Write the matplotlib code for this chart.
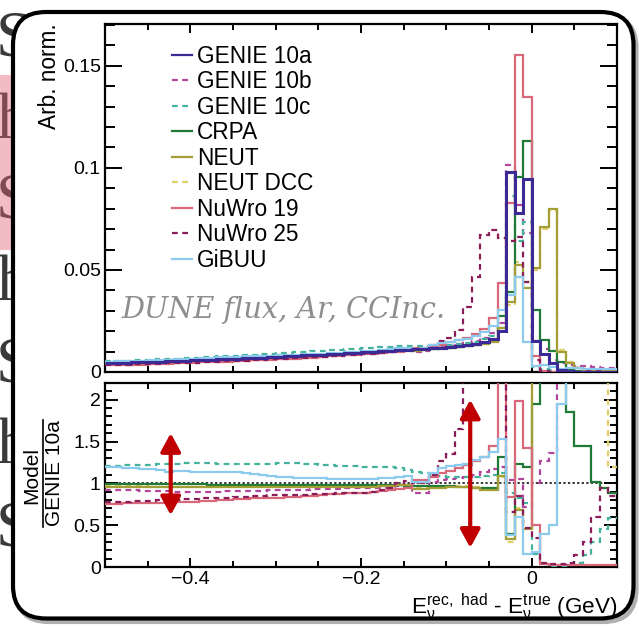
import numpy as np
import matplotlib
matplotlib.use("Agg")
import matplotlib.pyplot as plt
from matplotlib.lines import Line2D
from matplotlib.patches import FancyBboxPatch, Rectangle
from matplotlib.ticker import MultipleLocator, FuncFormatter

plt.rcParams['font.family'] = ['Liberation Sans', 'DejaVu Sans']

# 10 MeV bins from -0.5 to 0.1 GeV
edges = np.linspace(-0.5, 0.1, 61)

labels = ["GENIE 10a", "GENIE 10b", "GENIE 10c", "CRPA", "NEUT",
          "NEUT DCC", "NuWro 19", "NuWro 25", "GiBUU"]
colours = ["#3b2a94", "#b2449c", "#45b29d", "#1f7a38", "#a49e36",
           "#e2cd6c", "#d8687a", "#8a1d58", "#8ccbee"]
dashed = [False, True, True, False, False, True, False, True, False]
# drawing order in the top panel (NEUT DCC sits under NEUT, GENIE 10a on top)
draw_order = [5, 1, 2, 3, 4, 6, 7, 8, 0]

# arbitrary-normalised E_rec,had - E_true distributions
genie_10a = [0.0043, 0.0044, 0.0046, 0.0047, 0.0048, 0.0050, 0.0051, 0.0053, 0.0054, 0.0056,
             0.0057, 0.0059, 0.0060, 0.0062, 0.0064, 0.0065, 0.0067, 0.0069, 0.0071, 0.0073,
             0.0075, 0.0077, 0.0079, 0.0081, 0.0083, 0.0085, 0.0087, 0.0090, 0.0092, 0.0094,
             0.0097, 0.0099, 0.0102, 0.0104, 0.0107, 0.0110, 0.0112, 0.0115, 0.0118, 0.0120,
             0.0123, 0.0127, 0.0131, 0.0138, 0.0147, 0.0162, 0.0200, 0.0980, 0.0780, 0.0946,
             0.0152, 0.0090, 0.0045, 0.0008, 0.0003, 0.0002, 0.0002, 0.0001, 0.0001, 0.0001]
genie_10b = [0.0039, 0.0040, 0.0042, 0.0043, 0.0044, 0.0046, 0.0046, 0.0048, 0.0049, 0.0050,
             0.0051, 0.0053, 0.0054, 0.0056, 0.0058, 0.0059, 0.0061, 0.0063, 0.0065, 0.0067,
             0.0069, 0.0071, 0.0073, 0.0075, 0.0077, 0.0079, 0.0081, 0.0084, 0.0086, 0.0088,
             0.0091, 0.0094, 0.0097, 0.0100, 0.0104, 0.0108, 0.0099, 0.0101, 0.0120, 0.0125,
             0.0129, 0.0135, 0.0141, 0.0152, 0.0166, 0.0190, 0.0240, 0.1015, 0.0820, 0.0680,
             0.0150, 0.0115, 0.0061, 0.0045, 0.0035, 0.0030, 0.0027, 0.0025, 0.0022, 0.0020]
genie_10c = [0.0052, 0.0053, 0.0056, 0.0057, 0.0059, 0.0061, 0.0063, 0.0065, 0.0066, 0.0069,
             0.0071, 0.0073, 0.0074, 0.0076, 0.0079, 0.0080, 0.0082, 0.0085, 0.0087, 0.0090,
             0.0093, 0.0095, 0.0098, 0.0100, 0.0102, 0.0104, 0.0106, 0.0109, 0.0111, 0.0114,
             0.0116, 0.0119, 0.0121, 0.0124, 0.0126, 0.0128, 0.0128, 0.0129, 0.0130, 0.0131,
             0.0133, 0.0137, 0.0141, 0.0149, 0.0160, 0.0178, 0.0215, 0.0862, 0.0640, 0.0737,
             0.0025, 0.0015, 0.0010, 0.0005, 0.0003, 0.0002, 0.0002, 0.0002, 0.0002, 0.0002]
crpa = [0.0043, 0.0044, 0.0046, 0.0047, 0.0048, 0.0050, 0.0050, 0.0052, 0.0053, 0.0055,
        0.0056, 0.0058, 0.0059, 0.0061, 0.0063, 0.0064, 0.0066, 0.0068, 0.0070, 0.0072,
        0.0074, 0.0075, 0.0077, 0.0079, 0.0081, 0.0083, 0.0085, 0.0088, 0.0090, 0.0092,
        0.0095, 0.0097, 0.0100, 0.0102, 0.0105, 0.0107, 0.0109, 0.0112, 0.0114, 0.0116,
        0.0119, 0.0122, 0.0126, 0.0131, 0.0140, 0.0152, 0.0275, 0.0394, 0.0957, 0.1132,
        0.0304, 0.0157, 0.0103, 0.0050, 0.0012, 0.0006, 0.0004, 0.0003, 0.0002, 0.0001]
neut = [0.0041, 0.0042, 0.0044, 0.0045, 0.0046, 0.0048, 0.0049, 0.0051, 0.0052, 0.0054,
        0.0055, 0.0057, 0.0058, 0.0060, 0.0061, 0.0062, 0.0064, 0.0066, 0.0068, 0.0070,
        0.0072, 0.0074, 0.0076, 0.0078, 0.0080, 0.0082, 0.0084, 0.0086, 0.0088, 0.0090,
        0.0093, 0.0095, 0.0099, 0.0101, 0.0105, 0.0108, 0.0104, 0.0107, 0.0112, 0.0114,
        0.0118, 0.0122, 0.0126, 0.0131, 0.0135, 0.0149, 0.0218, 0.0345, 0.0524, 0.0410,
        0.0510, 0.0712, 0.0800, 0.0100, 0.0045, 0.0020, 0.0012, 0.0008, 0.0005, 0.0003]
neut_dcc = [0.0042, 0.0043, 0.0045, 0.0046, 0.0047, 0.0048, 0.0049, 0.0051, 0.0052, 0.0054,
            0.0055, 0.0057, 0.0058, 0.0060, 0.0062, 0.0063, 0.0065, 0.0067, 0.0069, 0.0071,
            0.0073, 0.0075, 0.0077, 0.0079, 0.0081, 0.0083, 0.0085, 0.0087, 0.0089, 0.0091,
            0.0094, 0.0096, 0.0099, 0.0101, 0.0105, 0.0108, 0.0105, 0.0108, 0.0114, 0.0116,
            0.0119, 0.0123, 0.0127, 0.0132, 0.0137, 0.0151, 0.0216, 0.0330, 0.0540, 0.0440,
            0.0500, 0.0700, 0.0790, 0.0110, 0.0050, 0.0025, 0.0014, 0.0009, 0.0006, 0.0002]
nuwro_19 = [0.0032, 0.0033, 0.0035, 0.0036, 0.0036, 0.0039, 0.0039, 0.0041, 0.0042, 0.0044,
            0.0044, 0.0047, 0.0047, 0.0050, 0.0051, 0.0053, 0.0054, 0.0057, 0.0058, 0.0061,
            0.0062, 0.0065, 0.0066, 0.0069, 0.0071, 0.0073, 0.0076, 0.0078, 0.0081, 0.0084,
            0.0086, 0.0089, 0.0093, 0.0096, 0.0100, 0.0105, 0.0116, 0.0120, 0.0127, 0.0134,
            0.0145, 0.0155, 0.0167, 0.0185, 0.0210, 0.0263, 0.0435, 0.0827, 0.1554, 0.1346,
            0.0080, 0.0003, 0.0002, 0.0002, 0.0002, 0.0001, 0.0001, 0.0001, 0.0001, 0.0001]
nuwro_25 = [0.0034, 0.0034, 0.0036, 0.0037, 0.0038, 0.0040, 0.0041, 0.0042, 0.0043, 0.0045,
            0.0046, 0.0048, 0.0049, 0.0051, 0.0053, 0.0055, 0.0056, 0.0059, 0.0060, 0.0063,
            0.0065, 0.0066, 0.0068, 0.0070, 0.0072, 0.0074, 0.0076, 0.0079, 0.0081, 0.0083,
            0.0086, 0.0089, 0.0094, 0.0098, 0.0107, 0.0113, 0.0114, 0.0120, 0.0130, 0.0154,
            0.0166, 0.0206, 0.0320, 0.0467, 0.0670, 0.0696, 0.0657, 0.0640, 0.0660, 0.0440,
            0.0060, 0.0004, 0.0002, 0.0002, 0.0002, 0.0002, 0.0003, 0.0003, 0.0001, 0.0001]
gibuu = [0.0051, 0.0052, 0.0054, 0.0055, 0.0056, 0.0059, 0.0060, 0.0060, 0.0063, 0.0064,
         0.0065, 0.0067, 0.0068, 0.0072, 0.0074, 0.0074, 0.0076, 0.0077, 0.0079, 0.0080,
         0.0081, 0.0083, 0.0085, 0.0087, 0.0088, 0.0090, 0.0091, 0.0095, 0.0097, 0.0099,
         0.0102, 0.0104, 0.0108, 0.0111, 0.0116, 0.0120, 0.0114, 0.0117, 0.0132, 0.0142,
         0.0149, 0.0155, 0.0161, 0.0177, 0.0194, 0.0224, 0.0306, 0.0377, 0.0467, 0.0149,
         0.0027, 0.0036, 0.0023, 0.0016, 0.0020, 0.0018, 0.0016, 0.0015, 0.0014, 0.0013]

# model / GENIE 10a (values above 2.2 run off the top of the panel)
ratio_genie_10b = [0.92, 0.92, 0.92, 0.92, 0.91, 0.91, 0.91, 0.91, 0.90, 0.90,
                   0.90, 0.90, 0.90, 0.90, 0.91, 0.91, 0.91, 0.91, 0.91, 0.92,
                   0.92, 0.92, 0.92, 0.92, 0.93, 0.93, 0.93, 0.93, 0.94, 0.94,
                   0.94, 0.95, 0.95, 0.96, 0.97, 0.98, 0.88, 0.88, 1.02, 1.04,
                   1.05, 1.06, 1.08, 1.10, 1.13, 1.17, 1.20, 1.04, 1.05, 0.72,
                   1.00, 1.27, 1.36, 3.00, 3.00, 3.00, 3.00, 3.00, 3.00, 3.00]
ratio_genie_10c = [1.21, 1.21, 1.22, 1.22, 1.22, 1.22, 1.23, 1.23, 1.23, 1.24,
                   1.24, 1.24, 1.24, 1.23, 1.23, 1.23, 1.23, 1.23, 1.23, 1.23,
                   1.24, 1.24, 1.24, 1.23, 1.23, 1.22, 1.22, 1.21, 1.21, 1.21,
                   1.20, 1.20, 1.19, 1.19, 1.18, 1.16, 1.14, 1.12, 1.10, 1.09,
                   1.08, 1.08, 1.08, 1.08, 1.09, 1.10, 1.12, 0.88, 0.82, 0.76,
                   0.15, 0.03, 0.01, 0.01, 0.02, 0.05, 0.14, 0.30, 0.45, 0.58]
ratio_crpa = [0.99, 0.99, 0.99, 0.99, 0.99, 0.99, 0.99, 0.99, 0.99, 0.99,
              0.99, 0.99, 0.98, 0.98, 0.98, 0.98, 0.98, 0.98, 0.98, 0.98,
              0.98, 0.98, 0.98, 0.98, 0.98, 0.98, 0.98, 0.98, 0.98, 0.98,
              0.98, 0.98, 0.98, 0.98, 0.98, 0.97, 0.97, 0.97, 0.97, 0.97,
              0.97, 0.96, 0.96, 0.95, 0.95, 0.94, 1.32, 0.40, 1.23, 1.20,
              1.95, 2.50, 2.50, 2.50, 1.85, 1.45, 1.45, 1.02, 0.95, 0.88]
ratio_neut = [0.96, 0.96, 0.96, 0.96, 0.96, 0.96, 0.96, 0.96, 0.96, 0.96,
              0.96, 0.96, 0.96, 0.96, 0.96, 0.96, 0.96, 0.96, 0.96, 0.96,
              0.96, 0.96, 0.96, 0.96, 0.96, 0.96, 0.96, 0.96, 0.96, 0.96,
              0.96, 0.96, 0.97, 0.97, 0.98, 0.98, 0.93, 0.93, 0.95, 0.95,
              0.96, 0.96, 0.96, 0.95, 0.92, 0.92, 1.09, 0.33, 0.68, 0.45,
              3.00, 3.00, 3.00, 3.00, 3.00, 3.00, 3.00, 3.00, 3.00, 3.00]
ratio_neut_dcc = [0.97, 0.97, 0.97, 0.97, 0.97, 0.96, 0.96, 0.96, 0.96, 0.96,
                  0.96, 0.96, 0.96, 0.96, 0.97, 0.97, 0.97, 0.97, 0.97, 0.97,
                  0.97, 0.97, 0.97, 0.97, 0.97, 0.97, 0.97, 0.97, 0.97, 0.97,
                  0.97, 0.97, 0.97, 0.97, 0.98, 0.98, 0.94, 0.94, 0.96, 0.96,
                  0.97, 0.97, 0.97, 0.96, 0.93, 0.93, 1.08, 0.30, 0.70, 0.47,
                  3.00, 3.00, 3.00, 3.00, 3.00, 3.00, 3.00, 3.00, 3.00, 1.19]
ratio_nuwro_19 = [0.75, 0.75, 0.76, 0.76, 0.76, 0.77, 0.77, 0.77, 0.78, 0.78,
                  0.78, 0.79, 0.79, 0.80, 0.80, 0.81, 0.81, 0.82, 0.82, 0.83,
                  0.83, 0.84, 0.84, 0.85, 0.85, 0.86, 0.87, 0.87, 0.88, 0.89,
                  0.89, 0.90, 0.91, 0.92, 0.93, 0.95, 1.04, 1.04, 1.08, 1.12,
                  1.15, 1.18, 1.22, 1.27, 1.32, 1.45, 2.60, 0.84, 1.99, 1.42,
                  0.50, 0.03, 0.02, 0.02, 0.02, 0.02, 0.02, 0.02, 0.02, 0.02]
ratio_nuwro_25 = [0.78, 0.78, 0.78, 0.79, 0.79, 0.79, 0.80, 0.80, 0.80, 0.81,
                  0.81, 0.82, 0.82, 0.83, 0.83, 0.84, 0.84, 0.85, 0.85, 0.86,
                  0.86, 0.86, 0.86, 0.86, 0.87, 0.87, 0.87, 0.88, 0.88, 0.88,
                  0.89, 0.90, 0.92, 0.94, 1.00, 1.03, 1.00, 1.00, 1.10, 1.27,
                  1.35, 1.65, 2.60, 3.50, 4.50, 4.30, 3.30, 0.66, 0.85, 0.47,
                  0.35, 0.05, 0.03, 0.03, 0.05, 0.14, 0.30, 0.60, 0.95, 0.85]
ratio_gibuu = [1.19, 1.19, 1.18, 1.18, 1.17, 1.17, 1.16, 1.13, 1.15, 1.15,
               1.14, 1.13, 1.13, 1.14, 1.14, 1.13, 1.12, 1.11, 1.10, 1.09,
               1.08, 1.08, 1.07, 1.07, 1.06, 1.06, 1.05, 1.05, 1.05, 1.05,
               1.05, 1.05, 1.06, 1.07, 1.08, 1.09, 1.02, 1.02, 1.12, 1.18,
               1.21, 1.22, 1.23, 1.28, 1.32, 1.38, 1.53, 0.38, 0.60, 0.16,
               0.18, 0.40, 0.50, 1.95, 3.00, 3.00, 3.00, 3.00, 3.00, 3.00]

spectra = [genie_10a, genie_10b, genie_10c, crpa, neut, neut_dcc, nuwro_19, nuwro_25, gibuu]
ratios = [None, ratio_genie_10b, ratio_genie_10c, ratio_crpa, ratio_neut,
          ratio_neut_dcc, ratio_nuwro_19, ratio_nuwro_25, ratio_gibuu]

# spread markers on the ratio panel: (x, low, high)
arrows = [(-0.423, 0.62, 1.60), (-0.072, 0.23, 2.00)]

W, H = 639, 626
fig = plt.figure(figsize=(W / 100, H / 100), dpi=100)


def px_box(l, t, r, b):
    return [l / W, 1 - b / H, (r - l) / W, (b - t) / H]


# slide background: cut-off letters and highlight at the left edge
for ch, base in zip("ShShShS", [55, 138, 218, 300, 381, 463, 545]):
    fig.text(-4 / W, 1 - base / H, ch, family='Liberation Serif', fontsize=47,
             color='#3a3a3a', va='baseline', ha='left', zorder=0.5)
fig.patches.append(Rectangle((0, 1 - 250 / H), 16 / W, 175 / H, transform=fig.transFigure,
                             facecolor='#e4606f', alpha=0.42, edgecolor='none', zorder=1))
# rounded panel with a soft shadow
fig.patches.append(FancyBboxPatch((0.155, 0.04), 6.21, 6.07, transform=fig.dpi_scale_trans,
                                  boxstyle='round,pad=0,rounding_size=0.33',
                                  facecolor='none', edgecolor='#b0b0b0', lw=3, zorder=1.5))
fig.patches.append(FancyBboxPatch((0.13, 0.075), 6.205, 6.065, transform=fig.dpi_scale_trans,
                                  boxstyle='round,pad=0,rounding_size=0.33',
                                  facecolor='white', edgecolor='black', lw=3, zorder=2))

ax = fig.add_axes(px_box(105, 24, 617, 372))
axr = fig.add_axes(px_box(105, 383, 617, 567))


def tick_fmt(v, _):
    if abs(v) < 1e-9:
        return "0"
    return f"{v:g}".replace("-", "\u2212")


def line_style(i):
    return (0, (2.6, 2.0)) if dashed[i] else '-'


for z, i in enumerate(draw_order):
    lw = 2.2 if i == 0 else 1.6
    ax.stairs(spectra[i], edges, baseline=None, color=colours[i], lw=lw,
              ls=line_style(i), zorder=3 + 0.01 * z)
    if ratios[i] is not None:
        axr.stairs(ratios[i], edges, baseline=None, color=colours[i], lw=1.6,
                   ls=line_style(i), zorder=3 + 0.01 * z)

handles = [Line2D([], [], color=colours[i], lw=1.6, ls=line_style(i))
           for i in range(len(labels))]

axr.axhline(1.0, color='black', lw=1.1, ls=(0, (1.5, 1.5)), zorder=2)

for x, lo, hi in arrows:
    axr.annotate('', xy=(x, lo), xytext=(x, hi),
                 arrowprops=dict(arrowstyle='<|-|>,head_length=0.55,head_width=0.3',
                                 mutation_scale=20, color='#c00000', lw=3,
                                 shrinkA=0, shrinkB=0), zorder=6)

ax.set_xlim(-0.5, 0.1)
ax.set_ylim(0, 0.1705)
axr.set_xlim(-0.5, 0.1)
axr.set_ylim(0, 2.2)

for a in (ax, axr):
    for s in a.spines.values():
        s.set_linewidth(1.6)
    a.set_zorder(4)
    a.xaxis.set_major_locator(MultipleLocator(0.2))
    a.xaxis.set_minor_locator(MultipleLocator(0.05))
    a.xaxis.set_major_formatter(FuncFormatter(tick_fmt))
    a.yaxis.set_major_formatter(FuncFormatter(tick_fmt))
    a.tick_params(which='both', direction='in', top=True, right=True, width=1.4,
                  labelsize=14, pad=3)
    a.tick_params(axis='x', which='major', length=6.5)
    a.tick_params(axis='x', which='minor', length=4.0)

ax.yaxis.set_major_locator(MultipleLocator(0.05))
ax.yaxis.set_minor_locator(MultipleLocator(0.01))
ax.tick_params(axis='y', which='major', length=12)
ax.tick_params(axis='y', which='minor', length=7)
ax.tick_params(axis='x', labelbottom=False)

axr.yaxis.set_major_locator(MultipleLocator(0.5))
axr.yaxis.set_minor_locator(MultipleLocator(0.1))
axr.tick_params(axis='y', which='major', length=9.5)
axr.tick_params(axis='y', which='minor', length=5)

ax.legend(handles, labels, loc='upper left', bbox_to_anchor=(0.131, 0.94),
          frameon=False, fontsize=16.3, handlelength=0.9, handletextpad=0.2,
          labelspacing=0.11, borderpad=0, borderaxespad=0)

ax.text(0.033, 0.178, "DUNE flux, Ar, CCInc.", transform=ax.transAxes,
        family='DejaVu Serif', style='italic', fontsize=20.7, color='#8e8e8e',
        ha='left', va='center', zorder=5)

fig.text(49 / W, 1 - 23 / H, "Arb. norm.", rotation=90, ha='center', va='top',
         fontsize=16.3, zorder=5)
fig.text(32 / W, 1 - 475 / H, "Model", rotation=90, ha='center', va='center',
         fontsize=15, zorder=5)
fig.text(55 / W, 1 - 473 / H, "GENIE 10a", rotation=90, ha='center', va='center',
         fontsize=15, zorder=5)
fig.lines.append(Line2D([43 / W, 43 / W], [1 - 420 / H, 1 - 527 / H], color='black',
                        lw=1.2, transform=fig.transFigure, zorder=5))
fig.text(617 / W, 1 - 614 / H,
         r"$\mathregular{E_{\nu}^{rec,\ had}}$ - $\mathregular{E_{\nu}^{true}}$ (GeV)",
         ha='right', va='baseline', fontsize=16.2, zorder=5)

fig.savefig("out.png", dpi=100, facecolor='white')
